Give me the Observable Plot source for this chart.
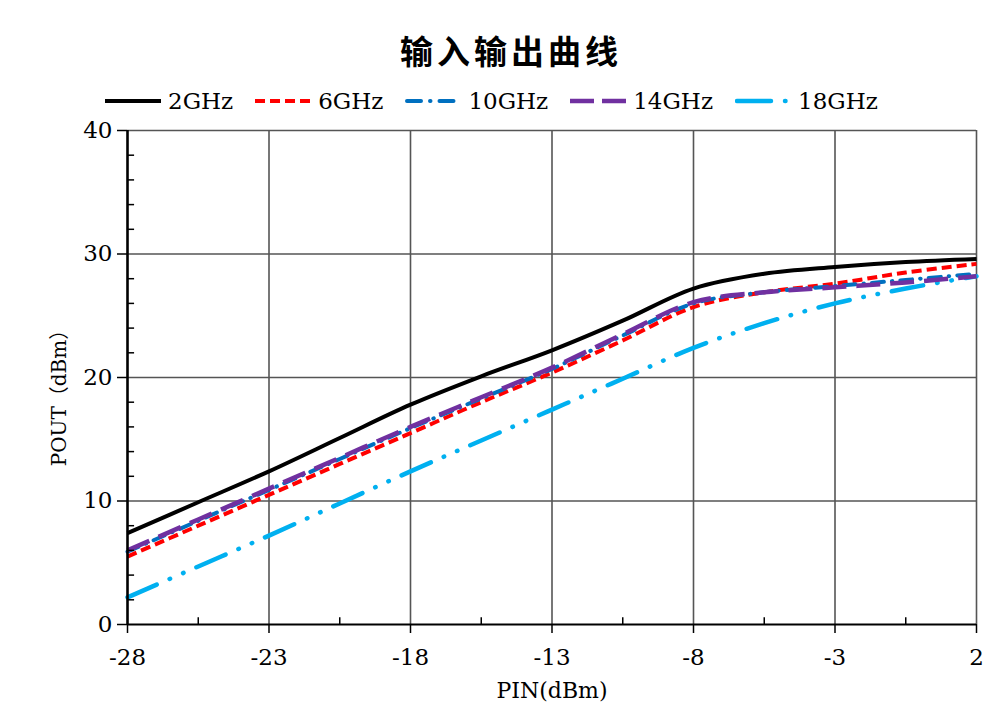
<!DOCTYPE html>
<html>
<head>
<meta charset="utf-8">
<script src="https://cdn.jsdelivr.net/npm/d3@7"></script>
<script src="https://cdn.jsdelivr.net/npm/@observablehq/plot@0.6"></script>
<style>
  html, body { margin: 0; padding: 0; background: #fff; }
  #wrap { position: relative; width: 1003px; height: 724px; overflow: hidden; background: #fff; }
  #title { position: absolute; left: 0; width: 1022px; top: 28px; text-align: center;
           font-family: "Noto Sans CJK SC", sans-serif; font-weight: 700; font-size: 33px;
           letter-spacing: 4px; line-height: 44px; color: #000; }
  #legend { position: absolute; left: 105px; top: 86px; height: 30px; display: flex; align-items: center;
            font-family: "DejaVu Serif", serif; font-size: 23px; color: #000; }
  .item { display: flex; align-items: center; margin-right: 22px; }
  .item svg { margin-right: 7px; }
  #chart { position: absolute; left: 0; top: 118px; }
  #xlabel { position: absolute; left: 452px; width: 200px; top: 678px; text-align: center;
            font-family: "DejaVu Serif", serif; font-size: 22px; color: #000; }
  #ylabel { position: absolute; left: 57px; top: 393px; transform: translate(-50%, -50%) rotate(-90deg);
            white-space: nowrap; font-family: "DejaVu Serif", "Noto Sans CJK SC", serif; font-size: 20px; color: #000; }
</style>
</head>
<body>
<div id="wrap">
  <div id="title">输入输出曲线</div>
  <div id="legend"></div>
  <div id="chart"></div>
  <div id="xlabel">PIN(dBm)</div>
  <div id="ylabel">POUT（dBm）</div>
</div>
<script>
// ---- data ----
const pin = [-28, -25.5, -23, -20.5, -18, -15.5, -13, -10.5, -8, -5.5, -3, -0.5, 2];
const g2  = [7.4, 9.9, 12.4, 15.1, 17.8, 20.1, 22.2, 24.6, 27.2, 28.4, 28.95, 29.35, 29.6];
const g6  = [5.5, 8.0, 10.5, 13.0, 15.5, 18.0, 20.4, 23.0, 25.7, 26.9, 27.6, 28.5, 29.2];
const g10 = [5.9, 8.4, 10.9, 13.4, 15.9, 18.3, 20.7, 23.4, 26.0, 26.9, 27.4, 27.9, 28.4];
const g14 = [6.0, 8.5, 11.0, 13.5, 16.0, 18.4, 20.8, 23.5, 26.1, 26.9, 27.3, 27.7, 28.2];
const g18 = [2.2, 4.7, 7.2, 9.8, 12.4, 14.9, 17.4, 19.9, 22.4, 24.4, 26.0, 27.2, 28.2];
const seriesNames = ["2GHz", "6GHz", "10GHz", "14GHz", "18GHz"];
const xTicks = [-28, -23, -18, -13, -8, -3, 2];
const xMinor = [-25.5, -20.5, -15.5, -10.5, -5.5, -0.5];
const yTicks = [0, 10, 20, 30, 40];
const yMinor = [2, 4, 6, 8, 12, 14, 16, 18, 22, 24, 26, 28, 32, 34, 36, 38];

// ---- styles ----
const styles = {
  "2GHz":  {stroke: "#000000", strokeWidth: 4,   dash: null,                     cap: "butt"},
  "6GHz":  {stroke: "#ff0000", strokeWidth: 4,   dash: "10,5",                   cap: "butt"},
  "10GHz": {stroke: "#0070c0", strokeWidth: 4,   dash: "12,8,0.5,8",             cap: "round"},
  "14GHz": {stroke: "#7030a0", strokeWidth: 4.5, dash: "24,10",                  cap: "butt"},
  "18GHz": {stroke: "#00b0f0", strokeWidth: 4.5, dash: "32,14,0.5,14,0.5,14",    cap: "round"}
};
const valuesBy = {"2GHz": g2, "6GHz": g6, "10GHz": g10, "14GHz": g14, "18GHz": g18};
const rows = name => pin.map((x, i) => ({x, y: valuesBy[name][i]}));

// legend
const legend = document.getElementById("legend");
const legendDash = {"2GHz": null, "6GHz": "10,5", "10GHz": "14,9,0.5,9", "14GHz": "24,8", "18GHz": "34,14,0.5,14"};
for (const name of seriesNames) {
  const s = styles[name];
  const item = document.createElement("div");
  item.className = "item";
  item.innerHTML = `<svg width="56" height="12"><line x1="${s.cap === "round" ? 2 : 0}" y1="6" x2="${s.cap === "round" ? 54 : 56}" y2="6" stroke="${s.stroke}" stroke-width="${s.strokeWidth}" ${legendDash[name] ? `stroke-dasharray="${legendDash[name]}"` : ""} stroke-linecap="${s.cap}"/></svg><span>${name}</span>`;
  legend.appendChild(item);
}

const grid = {stroke: "#555", strokeOpacity: 1, strokeWidth: 1.6};
const drawOrder = ["18GHz", "6GHz", "10GHz", "14GHz", "2GHz"];

const chart = Plot.plot({
  width: 1003,
  height: 606,
  marginLeft: 127,
  marginRight: 27,
  marginTop: 12,
  marginBottom: 100,
  x: {domain: [-28, 2]},
  y: {domain: [0, 40]},
  style: {fontFamily: "DejaVu Serif, serif", fontSize: "23px", color: "#000", background: "#fff", overflow: "visible"},
  marks: [
    Plot.gridX(xTicks.slice(1, -1), grid),
    Plot.gridY(yTicks.slice(1, -1), grid),
    Plot.ruleY([40], grid),
    Plot.ruleX([2], grid),
    ...drawOrder.map(name => Plot.line(rows(name), {
      x: "x", y: "y", curve: "catmull-rom",
      stroke: styles[name].stroke, strokeWidth: styles[name].strokeWidth,
      strokeDasharray: styles[name].dash || undefined,
      strokeLinecap: styles[name].cap
    })),
    Plot.ruleX(xMinor, {y1: 0, y2: 0.55, stroke: "#000", strokeWidth: 1.5}),
    Plot.ruleY(yMinor, {x1: -28, x2: -27.75, stroke: "#000", strokeWidth: 1.5}),
    Plot.axisX({ticks: xTicks, tickSize: 9, tickPadding: 15, tickFormat: d => String(d), label: null, strokeWidth: 1.5}),
    Plot.axisY({ticks: yTicks, tickSize: 10, tickPadding: 5, tickFormat: d => String(d), label: null, strokeWidth: 1.5}),
    Plot.ruleY([0], {stroke: "#000", strokeWidth: 2.2}),
    Plot.ruleX([-28], {stroke: "#000", strokeWidth: 2.6})
  ]
});
document.getElementById("chart").appendChild(chart);
</script>
</body>
</html>
